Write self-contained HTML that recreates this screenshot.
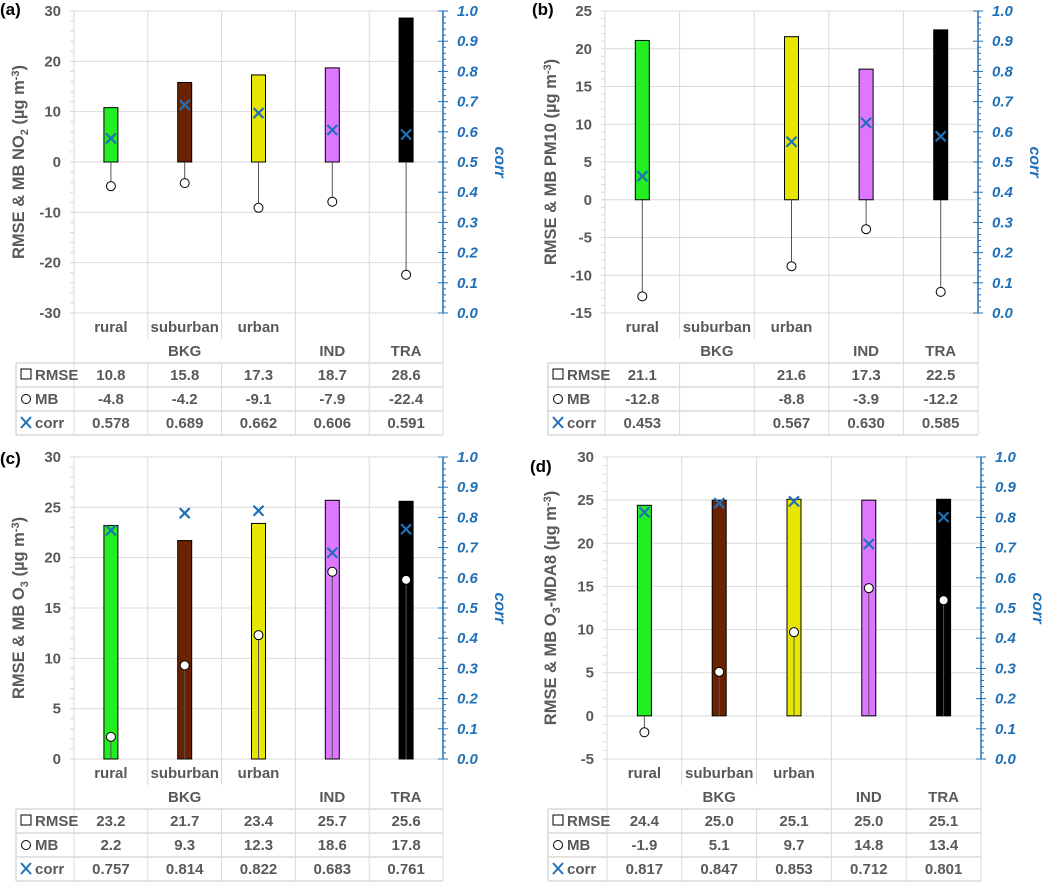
<!DOCTYPE html>
<html><head><meta charset="utf-8">
<style>
html,body{margin:0;padding:0;background:#fff;}
svg text{font-family:"Liberation Sans",sans-serif;font-weight:bold;}
</style></head>
<body>
<svg id="fig" width="1057" height="883" xmlns="http://www.w3.org/2000/svg"></svg>
<script>
const categories = ["rural","suburban","urban","",""];
const groups = ["BKG","IND","TRA"];
const barColors = ["#22ee22","#6b2200","#e6e600","#dd77ff","#000000"];

const rmseA = [10.8,15.8,17.3,18.7,28.6];
const mbA   = [-4.8,-4.2,-9.1,-7.9,-22.4];
const corrA = [0.578,0.689,0.662,0.606,0.591];

const rmseB = [21.1,null,21.6,17.3,22.5];
const mbB   = [-12.8,null,-8.8,-3.9,-12.2];
const corrB = [0.453,null,0.567,0.630,0.585];

const rmseC = [23.2,21.7,23.4,25.7,25.6];
const mbC   = [2.2,9.3,12.3,18.6,17.8];
const corrC = [0.757,0.814,0.822,0.683,0.761];

const rmseD = [24.4,25.0,25.1,25.0,25.1];
const mbD   = [-1.9,5.1,9.7,14.8,13.4];
const corrD = [0.817,0.847,0.853,0.712,0.801];

const ticksA = [-30,-20,-10,0,10,20,30];
const ticksB = [-15,-10,-5,0,5,10,15,20,25];
const ticksC = [0,5,10,15,20,25,30];
const ticksD = [-5,0,5,10,15,20,25,30];
const corrTicks = [0.0,0.1,0.2,0.3,0.4,0.5,0.6,0.7,0.8,0.9,1.0];

const svg = document.getElementById('fig');
const NS = "http://www.w3.org/2000/svg";
function mk(tag, attrs, parent, txt){
  const e = document.createElementNS(NS, tag);
  for (const k in attrs) e.setAttribute(k, attrs[k]);
  if (txt !== undefined) e.textContent = txt;
  (parent||svg).appendChild(e);
  return e;
}
const GRID="#d9d9d9", TXT="#595959", BLUE="#1f70b8";

function panel(id, cfg, rmse, mb, corr, ticks, titleParts){
  const g = mk('g', {});
  
  
  const {left,right,top,bottom,tableLeft,minor} = cfg;
  const ymin = ticks[0], ymax = ticks[ticks.length-1];
  const y = v => bottom - (v - ymin)/(ymax - ymin)*(bottom-top);
  const yc = v => bottom - v*(bottom-top);
  const cw = (right-left)/5;
  const cx = i => left + cw*(i+0.5);
  const tableTop = bottom+50, rowH = 24, tableBot = tableTop + rowH*3;

  ticks.forEach(t=>{
    const l = mk('line',{x1:left,x2:right,y1:y(t),y2:y(t),stroke:GRID,'stroke-width':1},g);
    
    
    const tx = mk('text',{x:left-13,y:y(t)+5,'text-anchor':'end','font-size':15,fill:TXT},g,String(t));
    
    
  });
  for (let v=ymin; v<=ymax+1e-9; v+=minor){
    mk('line',{x1:left-4,x2:left,y1:y(v),y2:y(v),stroke:GRID,'stroke-width':1},g);
  }
  for (let i=0;i<=5;i++){
    const x = left+cw*i;
    if (i===1||i===2){
      mk('line',{x1:x,x2:x,y1:top,y2:bottom+26,stroke:GRID},g);
      mk('line',{x1:x,x2:x,y1:tableTop,y2:tableBot,stroke:GRID},g);
    } else {
      mk('line',{x1:x,x2:x,y1:top,y2:tableBot,stroke:GRID},g);
    }
  }
  for (let r=0;r<=3;r++){
    mk('line',{x1:tableLeft,x2:right,y1:tableTop+r*rowH,y2:tableTop+r*rowH,stroke:GRID,'stroke-width':1.5},g);
  }
  mk('line',{x1:tableLeft,x2:tableLeft,y1:tableTop,y2:tableBot,stroke:GRID,'stroke-width':1.5},g);

  for (let i=0;i<5;i++){
    if (rmse[i]===null) continue;
    const bw = 14;
    const b = mk('rect',{x:cx(i)-bw/2,y:y(rmse[i]),width:bw,height:y(0)-y(rmse[i]),fill:barColors[i],stroke:'#000','stroke-width':1},g);
    
    
    const s = mk('line',{x1:cx(i),x2:cx(i),y1:y(0),y2:y(mb[i]),stroke:'#555','stroke-width':1},g);
    
    
    const c = mk('circle',{cx:cx(i),cy:y(mb[i]),r:4.5,fill:'#fff',stroke:'#000','stroke-width':1},g);
    
    
    const xx = cx(i), yy = yc(corr[i]), d=5;
    const m = mk('path',{d:`M${xx-d},${yy-d}L${xx+d},${yy+d}M${xx-d},${yy+d}L${xx+d},${yy-d}`,stroke:BLUE,'stroke-width':2.2,fill:'none'},g);
    
    
  }
  mk('line',{x1:right,x2:right,y1:top,y2:bottom,stroke:BLUE,'stroke-width':1.5},g);
  for (let k=0;k<=50;k++){
    const v=k/50;
    const major = k%5===0;
    mk('line',{x1:major?right-5:right,x2:right+(major?5:3),y1:yc(v),y2:yc(v),stroke:BLUE,'stroke-width':1},g);
  }
  corrTicks.forEach(t=>{
    const tx = mk('text',{x:right+14,y:yc(t)+5,'font-size':15,'font-style':'italic',fill:BLUE},g,t.toFixed(1));
    
    
  });
  const ct = mk('text',{x:0,y:0,'font-size':16,'font-style':'italic',fill:BLUE,'text-anchor':'middle',transform:`translate(${right+52},${(top+bottom)/2}) rotate(90)`},g,'corr');
  
  
  const yt = mk('text',{x:0,y:0,'font-size':16.5,fill:TXT,'text-anchor':'middle',transform:`translate(${tableLeft+8},${(top+bottom)/2}) rotate(-90)`},g);
  
  
  titleParts.forEach(p=>{
    mk('tspan',p.sub?{'font-size':11,dy:p.sub}:{'dy':p.dy||0},yt,p.t);
  });
  categories.forEach((c,i)=>{
    if(!c) return;
    const t = mk('text',{x:cx(i),y:bottom+19,'text-anchor':'middle','font-size':15,fill:TXT},g,c);
    
    
  });
  [[1,'BKG'],[3,'IND'],[4,'TRA']].forEach(([i,s])=>{
    const t = mk('text',{x:cx(i),y:bottom+43,'text-anchor':'middle','font-size':15,fill:TXT},g,s);
    
    
  });
  const rows = [['RMSE',rmse,1],['MB',mb,1],['corr',corr,3]];
  rows.forEach(([name,arr,dec],r)=>{
    const by = tableTop + r*rowH + 17;
    if (r===0) mk('rect',{x:tableLeft+5,y:by-11,width:10,height:10,fill:'none',stroke:'#000','stroke-width':1},g);
    if (r===1) mk('circle',{cx:tableLeft+10,cy:by-5,r:4.5,fill:'none',stroke:'#000','stroke-width':1},g);
    if (r===2) mk('path',{d:`M${tableLeft+5},${by-11}L${tableLeft+15},${by}M${tableLeft+5},${by}L${tableLeft+15},${by-11}`,stroke:BLUE,'stroke-width':2,fill:'none'},g);
    const lt = mk('text',{x:tableLeft+19,y:by,'font-size':15,fill:TXT},g,name);
    
    
    arr.forEach((v,i)=>{
      if (v===null) return;
      const t = mk('text',{x:cx(i),y:by,'text-anchor':'middle','font-size':15,fill:TXT},g,v.toFixed(dec));
      
      
    });
  });
  const pl = mk('text',{x:cfg.lx,y:cfg.ly,'font-size':17,fill:'#000'},g,'('+id+')');
  
  
}

panel('a',{left:74,right:443,top:11,bottom:313,tableLeft:16,minor:2,lx:0,ly:15},rmseA,mbA,corrA,ticksA,
  [{t:'RMSE & MB NO'},{t:'2',sub:4},{t:' (µg m',dy:-4},{t:'-3',sub:-5},{t:')',dy:5}]);
panel('b',{left:605,right:978,top:11,bottom:313,tableLeft:548,minor:1,lx:532,ly:15},rmseB,mbB,corrB,ticksB,
  [{t:'RMSE & MB PM10 (µg m'},{t:'-3',sub:-5},{t:')',dy:5}]);
panel('c',{left:74,right:443,top:457,bottom:759,tableLeft:16,minor:1,lx:0,ly:464},rmseC,mbC,corrC,ticksC,
  [{t:'RMSE & MB O'},{t:'3',sub:4},{t:' (µg m',dy:-4},{t:'-3',sub:-5},{t:')',dy:5}]);
panel('d',{left:607,right:981,top:457,bottom:759,tableLeft:548,minor:1,lx:530,ly:472},rmseD,mbD,corrD,ticksD,
  [{t:'RMSE & MB O'},{t:'3',sub:4},{t:'-MDA8 (µg m',dy:-4},{t:'-3',sub:-5},{t:')',dy:5}]);
</script>
</body></html>
